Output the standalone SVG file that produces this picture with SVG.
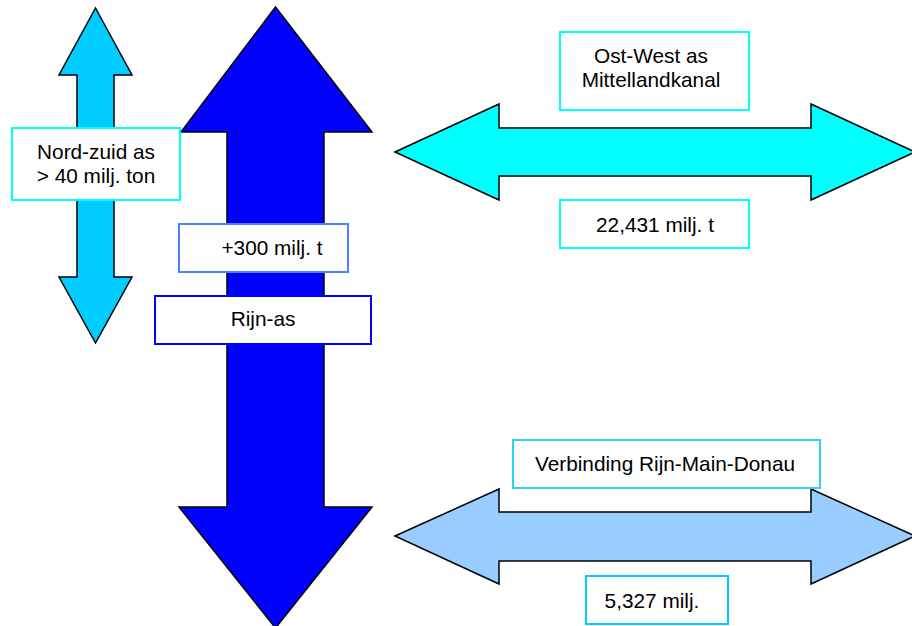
<svg xmlns="http://www.w3.org/2000/svg" width="912" height="626" viewBox="0 0 912 626">
<style>
.arrow{stroke:#000;stroke-width:1.5;stroke-linejoin:miter}
.box{fill:#fff;stroke-width:2}
.lbl{font-family:"Liberation Sans",Arial,sans-serif;font-size:20.8px;fill:#000;text-anchor:middle}
</style>
<rect width="912" height="626" fill="#fff"/>
<g id="connectors">
<polygon id="arrow-noordzuid" class="arrow" fill="#00CCFF" points="95.5,8 132,75 114,75 114,277 132,277 95.5,343 59,277 77,277 77,75 59,75"/>
<polygon id="arrow-rijn" class="arrow" fill="#0000FF" points="275.5,7 372,132 324,132 324,507 372,507 275.5,628 179,507 227,507 227,132 181,132"/>
<polygon id="arrow-ostwest" class="arrow" fill="#00FFFF" points="395,152 499,104 499,128 811,128 811,104 915,152 811,200 811,176 499,176 499,200"/>
<polygon id="arrow-rmd" class="arrow" fill="#99CCFF" points="395,536 499,489 499,512 811,512 811,489 915,536 811,584 811,561 499,561 499,584"/>
</g>
<g id="node-noordzuid">
<rect class="box" stroke="#00FFFF" x="12" y="128" width="168" height="72"/>
<text class="lbl" x="96" y="159">Nord-zuid as</text>
<text class="lbl" x="96" y="183">&gt; 40 milj. ton</text>
</g>
<g id="node-300">
<rect class="box" stroke="#4D80FF" x="179" y="224" width="169" height="48"/>
<text class="lbl" x="272" y="255">+300 milj. t</text>
</g>
<g id="node-rijnas">
<rect class="box" stroke="#0000FF" x="155" y="296" width="216" height="48"/>
<text class="lbl" x="263" y="326">Rijn-as</text>
</g>
<g id="node-ostwest">
<rect class="box" stroke="#00FFFF" x="560" y="32" width="189" height="78"/>
<text class="lbl" x="651" y="63">Ost-West as</text>
<text class="lbl" x="651" y="87">Mittellandkanal</text>
</g>
<g id="node-22431">
<rect class="box" stroke="#00FFFF" x="560" y="200" width="189" height="48"/>
<text class="lbl" x="655" y="232">22,431 milj. t</text>
</g>
<g id="node-verbinding">
<rect class="box" stroke="#33CCFF" x="513" y="440" width="307" height="48"/>
<text class="lbl" x="665" y="471">Verbinding Rijn-Main-Donau</text>
</g>
<g id="node-5327">
<rect class="box" stroke="#00CCFF" x="586" y="576" width="142" height="48"/>
<text class="lbl" x="652" y="608">5,327 milj.</text>
</g>
</svg>
